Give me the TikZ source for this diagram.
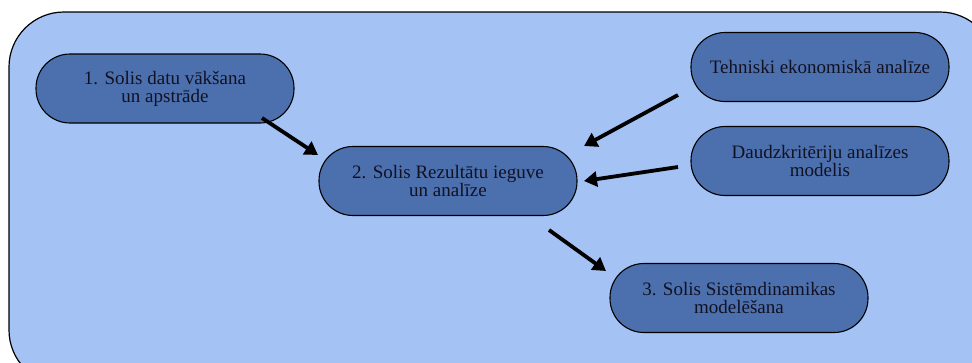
\documentclass[tikz,border=0pt]{standalone}
\usepackage{fontspec}
\setmainfont{Liberation Serif}
\usetikzlibrary{arrows.meta}
\definecolor{outerblue}{HTML}{A4C2F4}
\definecolor{nodeblue}{HTML}{4C70AD}
\definecolor{txt}{HTML}{111122}
\tikzset{
  stepbox/.style={draw=black, line width=1.1pt, fill=nodeblue, rounded corners=34pt,
    minimum width=258pt, minimum height=69pt, align=center, text=txt,
    font=\fontsize{19}{18}\selectfont, inner sep=0pt},
  flow/.style={line width=3.8pt, -{Triangle[length=13pt,width=15pt]}}
}
\begin{document}
\begin{tikzpicture}[x=1pt,y=-1pt]
\useasboundingbox (0,0) rectangle (972,362);
\clip (0,0) rectangle (972,362);
\draw[line width=1.2pt, fill=outerblue, rounded corners=55pt] (9,12) rectangle (995,385);
\node[stepbox] (n1) at (165,88.5) {1. Solis datu vākšana\\un apstrāde};
\node[stepbox] (n2) at (448,181) {2. Solis Rezultātu ieguve\\un analīze};
\node[stepbox] (te) at (820,67) {Tehniski ekonomiskā analīze};
\node[stepbox] (dk) at (820,161) {Daudzkritēriju analīzes\\modelis};
\node[stepbox] (n3) at (739,298) {3. Solis Sistēmdinamikas\\modelēšana};
\coordinate (a1s) at (262,118);
\coordinate (a1e) at (318,155);
\coordinate (a2s) at (678,95);
\coordinate (a2e) at (584,146);
\coordinate (a3s) at (678,167);
\coordinate (a3e) at (584,181);
\coordinate (a4s) at (549,230);
\coordinate (a4e) at (606,271);
\draw[flow] (a1s) -- (a1e);
\draw[flow] (a2s) -- (a2e);
\draw[flow] (a3s) -- (a3e);
\draw[flow] (a4s) -- (a4e);
\end{tikzpicture}
\end{document}
